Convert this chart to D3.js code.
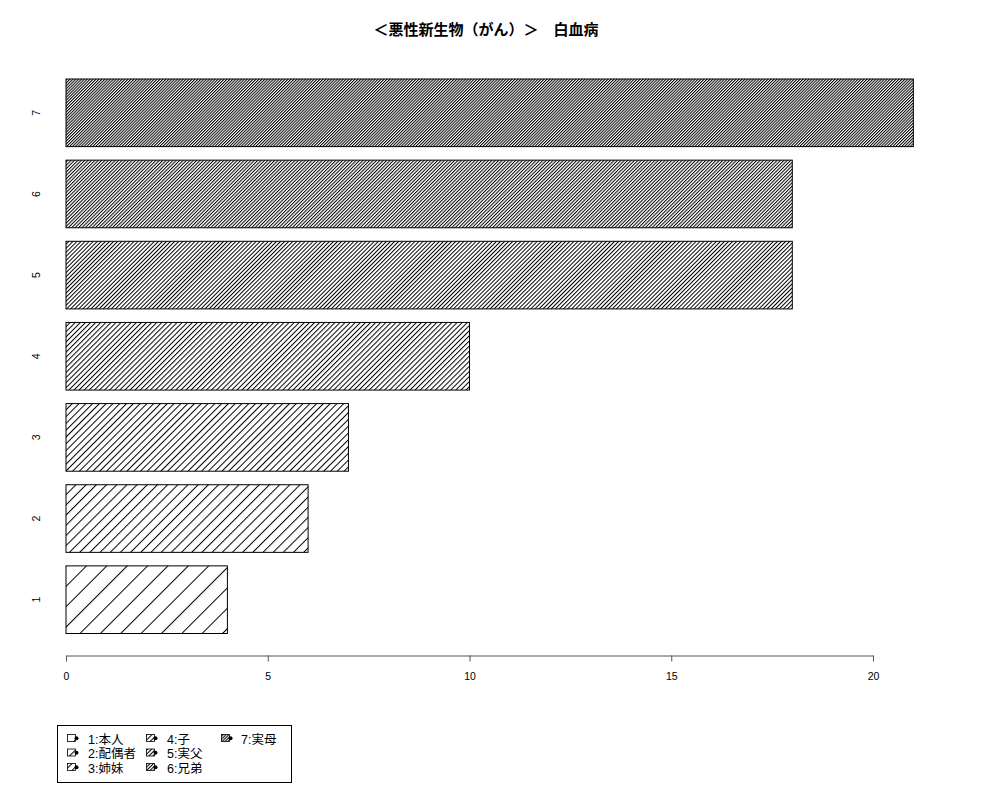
<!DOCTYPE html>
<html><head><meta charset="utf-8">
<script src="https://cdn.jsdelivr.net/npm/d3@7"></script>
<style>body{margin:0;background:#fff}text{font-family:"Liberation Sans","Noto Sans CJK JP",sans-serif}</style>
</head><body><svg id="c" width="1000" height="800"></svg>
<script>
const categories = ["1","2","3","4","5","6","7"];
const values = [4, 6, 7, 10, 18, 18, 21];
const densities = [5, 10, 15, 20, 25, 30, 35];
const legendLabels = ["1:本人","2:配偶者","3:姉妹","4:子","5:実父","6:兄弟","7:実母"];
const xTicks = [0, 5, 10, 15, 20];
const title = "＜悪性新生物（がん）＞　白血病";

const svg = d3.select("#c");
const defs = svg.append("defs");
densities.forEach((d, i) => {
  const s = 72 / d;
  const p = defs.append("pattern").attr("id", "h" + i)
    .attr("patternUnits", "userSpaceOnUse").attr("width", s).attr("height", 20)
    .attr("patternTransform", "rotate(45)");
  p.append("line").attr("x1", 0.5).attr("x2", 0.5).attr("y1", 0).attr("y2", 20)
    .attr("stroke", "#000").attr("stroke-width", 1);
});

const x = d3.scaleLinear().domain([0, 20]).range([66, 873]);
const y = d3.scaleBand().domain(categories).range([633.5, 79]).paddingInner(0.2 / 1.2);

svg.append("text").attr("x", 486).attr("y", 35).attr("text-anchor", "middle")
  .attr("font-size", 15).attr("font-weight", "bold").text(title);

const bars = svg.append("g");
categories.forEach((c, i) => {
  bars.append("rect").attr("x", x(0)).attr("y", y(c)).attr("width", x(values[i]) - x(0))
    .attr("height", y.bandwidth()).attr("fill", "#fff");
  bars.append("rect").attr("x", x(0)).attr("y", y(c)).attr("width", x(values[i]) - x(0))
    .attr("height", y.bandwidth()).attr("fill", "url(#h" + i + ")")
    .attr("stroke", "#000").attr("stroke-width", 1);
});

const ax = svg.append("g").attr("transform", "translate(0,655.5)")
  .call(d3.axisBottom(x).tickValues(xTicks).tickSize(6).tickPadding(11).tickSizeOuter(0));
ax.select(".domain").attr("stroke", "#555");
ax.selectAll(".tick line").attr("stroke", "#555");
ax.selectAll("text").attr("font-size", 10.5).attr("font-family", "Liberation Sans, sans-serif");

categories.forEach(c => {
  const cy = y(c) + y.bandwidth() / 2;
  svg.append("text").attr("transform", `translate(39.5,${cy}) rotate(-90)`)
    .attr("text-anchor", "middle").attr("font-size", 10.5).text(c);
});

// legend
const lg = svg.append("g");
lg.append("rect").attr("x", 57.5).attr("y", 725.5).attr("width", 234).attr("height", 57)
  .attr("fill", "none").attr("stroke", "#000");
const colX = [67, 146, 221];
const rowY = [739, 753.5, 768];
legendLabels.forEach((t, i) => {
  const col = Math.floor(i / 3), row = i % 3;
  const kx = colX[col], ky = rowY[row];
  lg.append("rect").attr("x", kx + 0.5).attr("y", ky - 4.5).attr("width", 8).attr("height", 7)
    .attr("fill", "url(#h" + i + ")").attr("stroke", "#000").attr("stroke-width", 0.8);
  lg.append("circle").attr("cx", kx + 9.5).attr("cy", ky - 0.8).attr("r", 2).attr("fill", "#000");
  lg.append("text").attr("x", kx + (col === 2 ? 20 : 21)).attr("y", ky + 4.5)
    .attr("font-size", 12.5).text(t);
});
</script></body></html>
